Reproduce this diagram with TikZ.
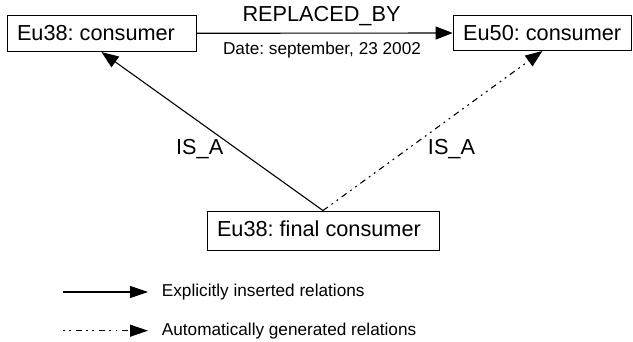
\documentclass[tikz,border=0pt]{standalone}
\usepackage{fontspec}
\setmainfont{Liberation Sans}
\frenchspacing
\usetikzlibrary{arrows.meta}
\begin{document}
\begin{tikzpicture}[x=1pt,y=-1pt,
  conceptbox/.style={draw=black, line width=1pt, inner xsep=10pt, inner ysep=0pt,
     font=\fontsize{21.7}{26}\selectfont\frenchspacing},
  biglabel/.style={inner sep=0pt, anchor=base, font=\fontsize{21.7}{26}\selectfont},
  smalllabel/.style={inner sep=0pt, anchor=base, font=\fontsize{17.2}{20}\selectfont\frenchspacing},
  legendtext/.style={inner sep=0pt, anchor=base west, font=\fontsize{17.2}{20}\selectfont},
  rel/.style={line width=1.1pt, -{Triangle[length=17pt,width=13pt]}},
  autorel/.style={rel, dash pattern=on 6pt off 4.5pt on 1.8pt off 4.5pt on 1.8pt off 4.5pt}
]
\useasboundingbox (0,0) rectangle (633,342);
\node[conceptbox, minimum height=36.5pt] (c38) at (101.5,33.3) {\makebox[169pt][l]{Eu38: consumer}};
\node[conceptbox, minimum height=35pt] (c50) at (542.4,33) {\makebox[158.5pt][l]{Eu50: consumer}};
\node[conceptbox, minimum height=39.7pt, text height=15.5pt, text depth=4.5pt] (fc) at (323,230.9) {\makebox[212pt][l]{Eu38: final consumer}};

\draw[rel] (c38.east) -- (c50.west);
\node[biglabel] (rb) at (321.5,21.7) {REPLACED\_BY};
\node[smalllabel] (dt) at (322,54.5) {Date: september, 23 2002};

\draw[rel] (fc.north) -- (c38.south);
\draw[autorel] (fc.north) -- (c50.south);
\node[biglabel] (isa1) at (199.7,154.5) {IS\_A};
\node[biglabel] (isa2) at (451.5,154.5) {IS\_A};

\coordinate (l1a) at (63,292);
\coordinate (l1b) at (148,292);
\coordinate (l2a) at (63,330.7);
\coordinate (l2b) at (148,330.7);
\draw[line width=1.1pt, -{Triangle[length=18pt,width=12pt]}] (l1a) -- (l1b);
\draw[line width=1.1pt, dash pattern=on 1.8pt off 4.5pt on 1.8pt off 4.5pt on 6pt off 4.5pt, -{Triangle[length=18pt,width=12pt]}] (l2a) -- (l2b);
\node[legendtext] (t1) at (161.7,296.5) {Explicitly inserted relations};
\node[legendtext] (t2) at (161.7,335.3) {Automatically generated relations};
\end{tikzpicture}
\end{document}
